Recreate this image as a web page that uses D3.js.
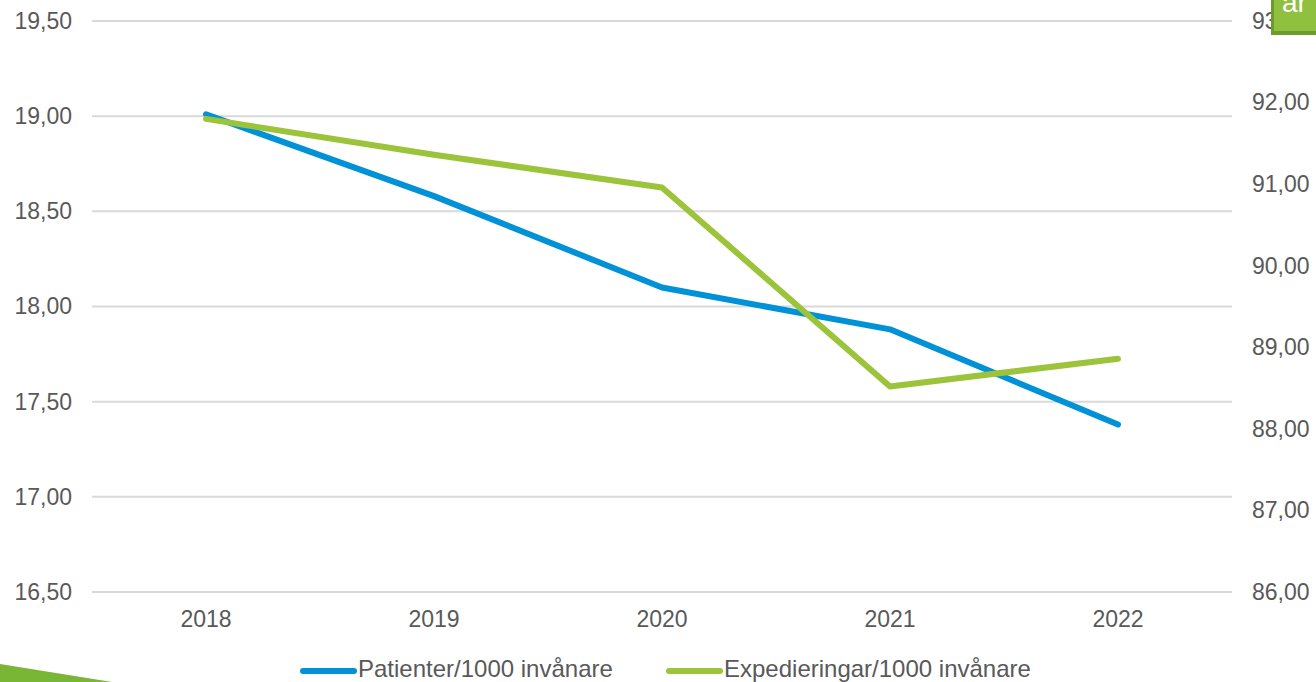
<!DOCTYPE html>
<html>
<head>
<meta charset="utf-8">
<script src="https://cdn.jsdelivr.net/npm/d3@7"></script>
<style>
html,body{margin:0;padding:0;background:#fff;overflow:hidden;}
text{font-family:"Liberation Sans",Arial,sans-serif;}
</style>
</head>
<body>
<svg id="chart" width="1316" height="682"></svg>
<script>
const years = ["2018","2019","2020","2021","2022"];
const patienter = [19.01, 18.58, 18.10, 17.88, 17.38];
const expedieringar = [91.80, 91.36, 90.96, 88.52, 88.86];
const leftTicks = [16.5, 17.0, 17.5, 18.0, 18.5, 19.0, 19.5];
const rightTicks = [86, 87, 88, 89, 90, 91, 92, 93];
const seriesNames = ["Patienter/1000 invånare", "Expedieringar/1000 invånare"];

const svg = d3.select("#chart");
const x0 = 92, x1 = 1232, yTop = 21, yBot = 592;
const blue = "#0091d6", green = "#9cc43b";
const txt = "#595959";
const fmt = v => d3.format(".2f")(v).replace(".", ",");
const FF = '"Liberation Sans",Arial,sans-serif';

const x = d3.scaleBand().domain(years).range([x0, x1]);
const yL = d3.scaleLinear().domain([16.5, 19.5]).range([yBot, yTop]);
const yR = d3.scaleLinear().domain([86, 93]).range([yBot, yTop]);

// background decoration bottom-left
svg.append("path")
  .attr("d", "M0,664 L112,682 L0,682 Z")
  .attr("fill", "#7ab636");

// gridlines
svg.append("g").selectAll("line").data(leftTicks).join("line")
  .attr("x1", x0).attr("x2", x1)
  .attr("y1", d => yL(d)).attr("y2", d => yL(d))
  .attr("stroke", "#d9d9d9").attr("stroke-width", 2);

// left axis labels
const leftAxis = d3.axisLeft(yL).tickValues(leftTicks).tickFormat(fmt).tickSize(0).tickPadding(0);
const gl = svg.append("g").attr("transform", "translate(72,0)").call(leftAxis);
gl.select(".domain").remove();
gl.selectAll("text").attr("fill", txt).style("font-size", "23px").style("font-family", FF);

// right axis labels
const rightAxis = d3.axisRight(yR).tickValues(rightTicks).tickFormat(fmt).tickSize(0).tickPadding(0);
const gr = svg.append("g").attr("transform", "translate(1252,0)").call(rightAxis);
gr.select(".domain").remove();
gr.selectAll("text").attr("fill", txt).style("font-size", "23px").style("font-family", FF);

// x axis labels
const xAxis = d3.axisBottom(x).tickSize(0).tickPadding(0);
const gx = svg.append("g").attr("transform", "translate(0,611)").call(xAxis);
gx.select(".domain").remove();
gx.selectAll("text").attr("fill", txt).style("font-size", "23px").style("font-family", FF);

// lines
const cx = d => x(d) + x.bandwidth() / 2;
const lineL = d3.line().x((d, i) => cx(years[i])).y(d => yL(d));
const lineR = d3.line().x((d, i) => cx(years[i])).y(d => yR(d));

svg.append("path").datum(patienter).attr("d", lineL)
  .attr("fill", "none").attr("stroke", blue).attr("stroke-width", 6)
  .attr("stroke-linejoin", "round").attr("stroke-linecap", "round");
svg.append("path").datum(expedieringar).attr("d", lineR)
  .attr("fill", "none").attr("stroke", green).attr("stroke-width", 6)
  .attr("stroke-linejoin", "round").attr("stroke-linecap", "round");

// legend
const legend = [
  {name: seriesNames[0], color: blue, lx: 300, tx: 358},
  {name: seriesNames[1], color: green, lx: 666, tx: 724}
];
const lg = svg.append("g");
legend.forEach(l => {
  lg.append("line").attr("x1", l.lx + 3).attr("x2", l.lx + 54).attr("y1", 671).attr("y2", 671)
    .attr("stroke", l.color).attr("stroke-width", 6).attr("stroke-linecap", "round");
  lg.append("text").attr("x", l.tx).attr("y", 677).attr("fill", txt)
    .style("font-size", "24px").text(l.name);
});

// top-right button (partially visible)
const b = svg.append("g");
b.append("rect").attr("x", 1271).attr("y", -10).attr("width", 60).attr("height", 45).attr("fill", "#6d9b2e");
b.append("rect").attr("x", 1274).attr("y", -10).attr("width", 60).attr("height", 41).attr("fill", "#8fc03f");
b.append("text").attr("x", 1282).attr("y", 12).attr("fill", "#ffffff").style("font-size", "28px").text("ar");
</script>
</body>
</html>
